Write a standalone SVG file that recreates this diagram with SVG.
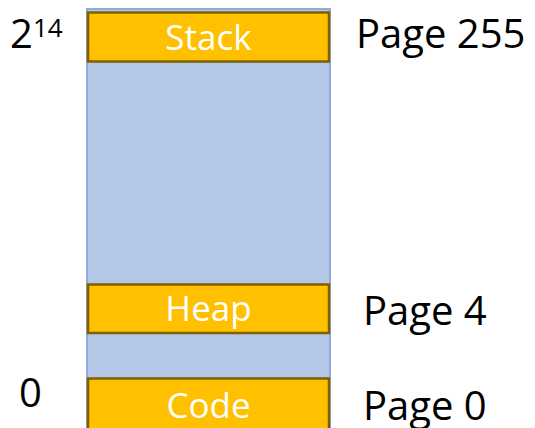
<svg xmlns="http://www.w3.org/2000/svg" width="535" height="428" viewBox="0 0 535 428">
  <style>
    .space { fill: #b4c7e7; stroke: #8faadc; stroke-width: 2; }
    .seg { fill: #ffc000; stroke: #7f6000; stroke-width: 2.5; }
    .seg-label { font-family: "Open Sans", "Liberation Sans", sans-serif; font-size: 35px; fill: #ffffff; text-anchor: middle; }
    .page { font-family: "Open Sans", "Liberation Sans", sans-serif; font-size: 40px; fill: #000000; }
    .addr { font-family: "Open Sans", "Liberation Sans", sans-serif; font-size: 40px; fill: #000000; }
  </style>

  <!-- address space column -->
  <g id="address-space">
    <rect class="space" x="87" y="9" width="243" height="425"/>
  </g>

  <g id="stack">
    <rect class="seg" x="88" y="12.5" width="241" height="49"/>
    <text class="seg-label" x="208.5" y="50">Stack</text>
  </g>

  <g id="heap">
    <rect class="seg" x="88" y="284.5" width="241" height="48.5"/>
    <text class="seg-label" x="208.5" y="321">Heap</text>
  </g>

  <g id="code">
    <rect class="seg" x="88" y="378.5" width="241" height="52"/>
    <text class="seg-label" x="208.5" y="418">Code</text>
  </g>

  <!-- page numbers -->
  <g id="page-labels">
    <text class="page" x="356" y="48">Page 255</text>
    <text class="page" x="363" y="325">Page 4</text>
    <text class="page" x="363" y="420">Page 0</text>
  </g>

  <!-- addresses -->
  <g id="address-labels">
    <text class="addr" x="10" y="48">2<tspan font-size="26px" dy="-11">14</tspan></text>
    <text class="addr" x="19" y="407">0</text>
  </g>
</svg>
